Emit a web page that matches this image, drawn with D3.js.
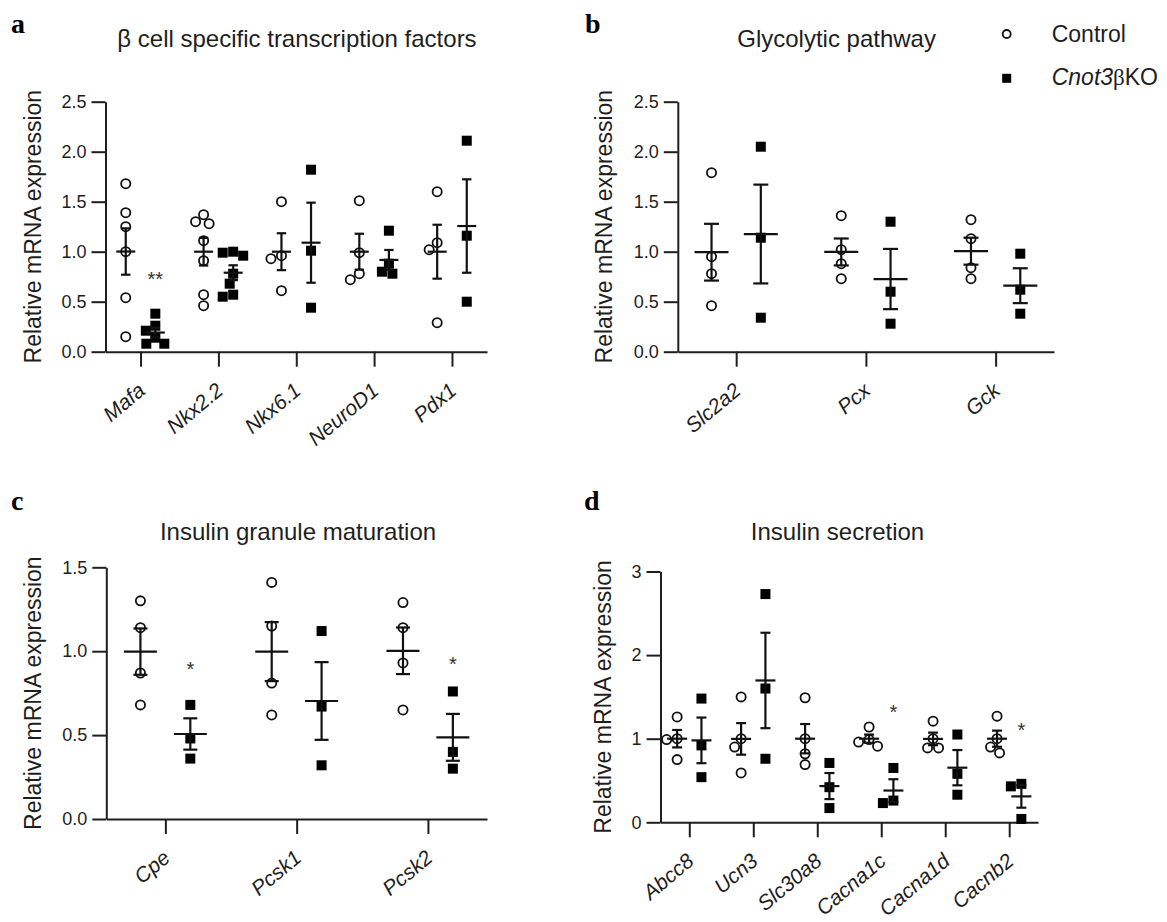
<!DOCTYPE html>
<html>
<head>
<meta charset="utf-8">
<script src="https://cdn.jsdelivr.net/npm/d3@7"></script>
<style>
  body { margin: 0; background: #fff; }
  svg { display: block; font-family: Arial, "Liberation Sans", sans-serif; }
</style>
</head>
<body>
<svg id="fig" width="1167" height="922"></svg>
<script>
// ---- data (relative mRNA expression, one value per animal) ----
var yLabel = 'Relative mRNA expression';

var genesA = ['Mafa', 'Nkx2.2', 'Nkx6.1', 'NeuroD1', 'Pdx1'];
var ctrlA = [
  [1.68, 1.39, 1.25, 1.0, 0.54, 0.15],
  [1.37, 1.30, 1.28, 1.11, 0.91, 0.57, 0.46],
  [1.50, 0.96, 0.93, 0.61],
  [1.51, 0.99, 0.78, 0.72],
  [1.60, 1.09, 1.02, 0.29]
];
var koA = [
  [0.38, 0.26, 0.21, 0.14, 0.08, 0.08],
  [1.0, 0.99, 0.96, 0.78, 0.68, 0.57, 0.55],
  [1.82, 1.01, 0.44],
  [1.21, 0.88, 0.80, 0.78],
  [2.11, 1.16, 0.50]
];
var sigA = [{ gene: 'Mafa', label: '**', level: 0.77 }];
var ticksA = [0, 0.5, 1, 1.5, 2, 2.5];

var genesB = ['Slc2a2', 'Pcx', 'Gck'];
var ctrlB = [
  [1.79, 0.95, 0.78, 0.46],
  [1.36, 1.02, 0.88, 0.73],
  [1.32, 1.13, 0.84, 0.73]
];
var koB = [
  [2.05, 1.14, 0.34],
  [1.30, 0.60, 0.28],
  [0.98, 0.62, 0.38]
];
var sigB = [];
var ticksB = [0, 0.5, 1, 1.5, 2, 2.5];

var genesC = ['Cpe', 'Pcsk1', 'Pcsk2'];
var ctrlC = [
  [1.30, 1.14, 0.87, 0.68],
  [1.41, 1.15, 0.81, 0.62],
  [1.29, 1.14, 0.93, 0.65]
];
var koC = [
  [0.68, 0.48, 0.36],
  [1.12, 0.67, 0.32],
  [0.76, 0.40, 0.30]
];
var sigC = [{ gene: 'Cpe', label: '*', level: 0.92 }, { gene: 'Pcsk2', label: '*', level: 0.95 }];
var ticksC = [0, 0.5, 1, 1.5];

var genesD = ['Abcc8', 'Ucn3', 'Slc30a8', 'Cacna1c', 'Cacna1d', 'Cacnb2'];
var ctrlD = [
  [1.26, 1.0, 0.99, 0.75],
  [1.50, 1.0, 0.90, 0.59],
  [1.49, 1.0, 0.82, 0.69],
  [1.14, 0.99, 0.96, 0.91],
  [1.21, 1.0, 0.89, 0.89],
  [1.27, 1.0, 0.90, 0.83]
];
var koD = [
  [1.48, 0.92, 0.54],
  [2.73, 1.60, 0.76],
  [0.71, 0.42, 0.17],
  [0.65, 0.26, 0.23],
  [1.05, 0.58, 0.33],
  [0.46, 0.43, 0.04]
];
var sigD = [{ gene: 'Cacna1c', label: '*', level: 1.37 }, { gene: 'Cacnb2', label: '*', level: 1.16 }];
var ticksD = [0, 1, 2, 3];

// ---- layout per panel ----
var panels = [
  { letter: 'a', title: 'β cell specific transcription factors', genes: genesA, ctrl: ctrlA, ko: koA, sig: sigA, ticks: ticksA, fmt: '.1f',
    x0: 105.5, x1: 487, yTop: 101.7, yBot: 351.7, titleX: 297, titleY: 46.5, letterX: 11, letterY: 33, labelX: 41, meanHw: 9.5, capHw: 4.7 },
  { letter: 'b', title: 'Glycolytic pathway', genes: genesB, ctrl: ctrlB, ko: koB, sig: sigB, ticks: ticksB, fmt: '.1f',
    x0: 677.8, x1: 1054, yTop: 101.7, yBot: 351.7, titleX: 836.6, titleY: 46.5, letterX: 585, letterY: 33, labelX: 612, meanHw: 17, capHw: 7.5 },
  { letter: 'c', title: 'Insulin granule maturation', genes: genesC, ctrl: ctrlC, ko: koC, sig: sigC, ticks: ticksC, fmt: '.1f',
    x0: 106.3, x1: 487, yTop: 567.3, yBot: 819, titleX: 298, titleY: 540, letterX: 11, letterY: 510, labelX: 41, meanHw: 16.5, capHw: 7 },
  { letter: 'd', title: 'Insulin secretion', genes: genesD, ctrl: ctrlD, ko: koD, sig: sigD, ticks: ticksD, fmt: 'd',
    x0: 660.5, x1: 1038, yTop: 571.5, yBot: 822.3, titleX: 837.5, titleY: 540, letterX: 584, letterY: 510, labelX: 611, meanHw: 10, capHw: 5 }
];

var ink = '#1e1e1e';
var svg = d3.select('#fig');

// simple beeswarm: spread points sideways where they would overlap
function swarm(vals, y, diam){
  var placed = [];
  return vals.map(function(v){
    var py = y(v), dx = 0;
    for (var k = 0; k < 400; k++) {
      var cand = (k % 2 ? -1 : 1) * Math.ceil(k / 2) * 0.5;
      var hit = placed.some(function(p){
        var ddx = cand - p.dx, ddy = py - p.py;
        return ddx * ddx + ddy * ddy < diam * diam - 0.01;
      });
      if (!hit) { dx = cand; break; }
    }
    placed.push({ dx: dx, py: py });
    return { v: v, py: py, dx: dx };
  });
}

function drawPanel(p){
  var g = svg.append('g');
  var x = d3.scalePoint().domain(p.genes).range([p.x0, p.x1]).padding(0.45);
  var off = d3.scalePoint().domain(['ctrl', 'ko']).range([-0.19 * x.step(), 0.19 * x.step()]);
  var y = d3.scaleLinear().domain([0, d3.max(p.ticks)]).range([p.yBot, p.yTop]);

  // axes
  var xa = g.append('g').attr('transform', 'translate(0,' + p.yBot + ')')
    .call(d3.axisBottom(x).tickSize(15).tickSizeOuter(0).tickFormat(''));
  var ya = g.append('g').attr('transform', 'translate(' + p.x0 + ',0)')
    .call(d3.axisLeft(y).tickValues(p.ticks).tickSize(14).tickSizeOuter(0).tickPadding(5).tickFormat(d3.format(p.fmt)));
  [xa, ya].forEach(function(a){
    a.selectAll('path, line').attr('stroke', ink).attr('stroke-width', 2);
  });
  ya.selectAll('text').attr('fill', ink).style('font-size', '18px')
    .style('font-family', 'Arial, "Liberation Sans", sans-serif');

  // gene labels, italic and slanted
  g.selectAll('text.gene').data(p.genes).join('text').attr('class', 'gene')
    .attr('transform', function(d){ return 'translate(' + (x(d) + 6) + ',' + (p.yBot + 41) + ') rotate(-40)'; })
    .attr('text-anchor', 'end')
    .attr('fill', ink).style('font-style', 'italic').style('font-size', '21px')
    .text(function(d){ return d; });

  // y label
  g.append('text')
    .attr('transform', 'translate(' + p.labelX + ',' + ((p.yTop + p.yBot) / 2) + ') rotate(-90)')
    .attr('text-anchor', 'middle').attr('fill', ink).style('font-size', '23px')
    .text(yLabel);

  // title and panel letter
  g.append('text').attr('x', p.titleX).attr('y', p.titleY).attr('text-anchor', 'middle')
    .attr('fill', ink).style('font-size', '24px').text(p.title);
  g.append('text').attr('x', p.letterX).attr('y', p.letterY)
    .style('font-family', '"Liberation Serif", "Times New Roman", serif').style('font-weight', 'bold')
    .style('font-size', '28px').attr('fill', '#000').text(p.letter);

  // points, mean and SEM per gene and group
  p.genes.forEach(function(gene, i){
    [['ctrl', p.ctrl[i]], ['ko', p.ko[i]]].forEach(function(s){
      var key = s[0], vals = s[1];
      var cx = x(gene) + off(key);
      var pts = swarm(vals, y, 10.5);
      if (key === 'ctrl') {
        g.selectAll(null).data(pts).join('circle')
          .attr('cx', function(d){ return cx + d.dx; }).attr('cy', function(d){ return d.py; })
          .attr('r', 4.6).attr('fill', 'none').attr('stroke', '#111').attr('stroke-width', 1.8);
      } else {
        g.selectAll(null).data(pts).join('rect')
          .attr('x', function(d){ return cx + d.dx - 5; }).attr('y', function(d){ return d.py - 5; })
          .attr('width', 10).attr('height', 10).attr('fill', '#000');
      }
      var m = d3.mean(vals);
      var sem = d3.deviation(vals) / Math.sqrt(vals.length);
      var bar = g.append('g').attr('stroke', '#111').attr('stroke-width', 2.2);
      bar.append('line').attr('x1', cx - p.meanHw).attr('x2', cx + p.meanHw).attr('y1', y(m)).attr('y2', y(m));
      bar.append('line').attr('x1', cx).attr('x2', cx).attr('y1', y(m - sem)).attr('y2', y(m + sem));
      [m - sem, m + sem].forEach(function(e){
        bar.append('line').attr('x1', cx - p.capHw).attr('x2', cx + p.capHw).attr('y1', y(e)).attr('y2', y(e));
      });
    });
  });

  // significance marks above the KO group
  g.selectAll('text.sig').data(p.sig).join('text').attr('class', 'sig')
    .attr('x', function(d){ return x(d.gene) + off('ko'); })
    .attr('y', function(d){ return y(d.level) + 11.5; })
    .attr('text-anchor', 'middle').attr('fill', '#333').style('font-size', '20px')
    .text(function(d){ return d.label; });
}

panels.forEach(drawPanel);

// legend
var leg = svg.append('g');
leg.append('circle').attr('cx', 1006.7).attr('cy', 34).attr('r', 4).attr('fill', 'none')
  .attr('stroke', '#111').attr('stroke-width', 1.8);
leg.append('text').attr('x', 1051.7).attr('y', 41.7).attr('fill', ink).style('font-size', '23px').text('Control');
leg.append('rect').attr('x', 1002.2).attr('y', 73.8).attr('width', 9).attr('height', 9).attr('fill', '#000');
var koText = leg.append('text').attr('x', 1051.7).attr('y', 85).attr('fill', ink).style('font-size', '23px');
koText.append('tspan').style('font-style', 'italic').text('Cnot3');
koText.append('tspan').style('font-family', '"Liberation Serif", "Times New Roman", serif').text('β');
koText.append('tspan').text('KO');
</script>
</body>
</html>
